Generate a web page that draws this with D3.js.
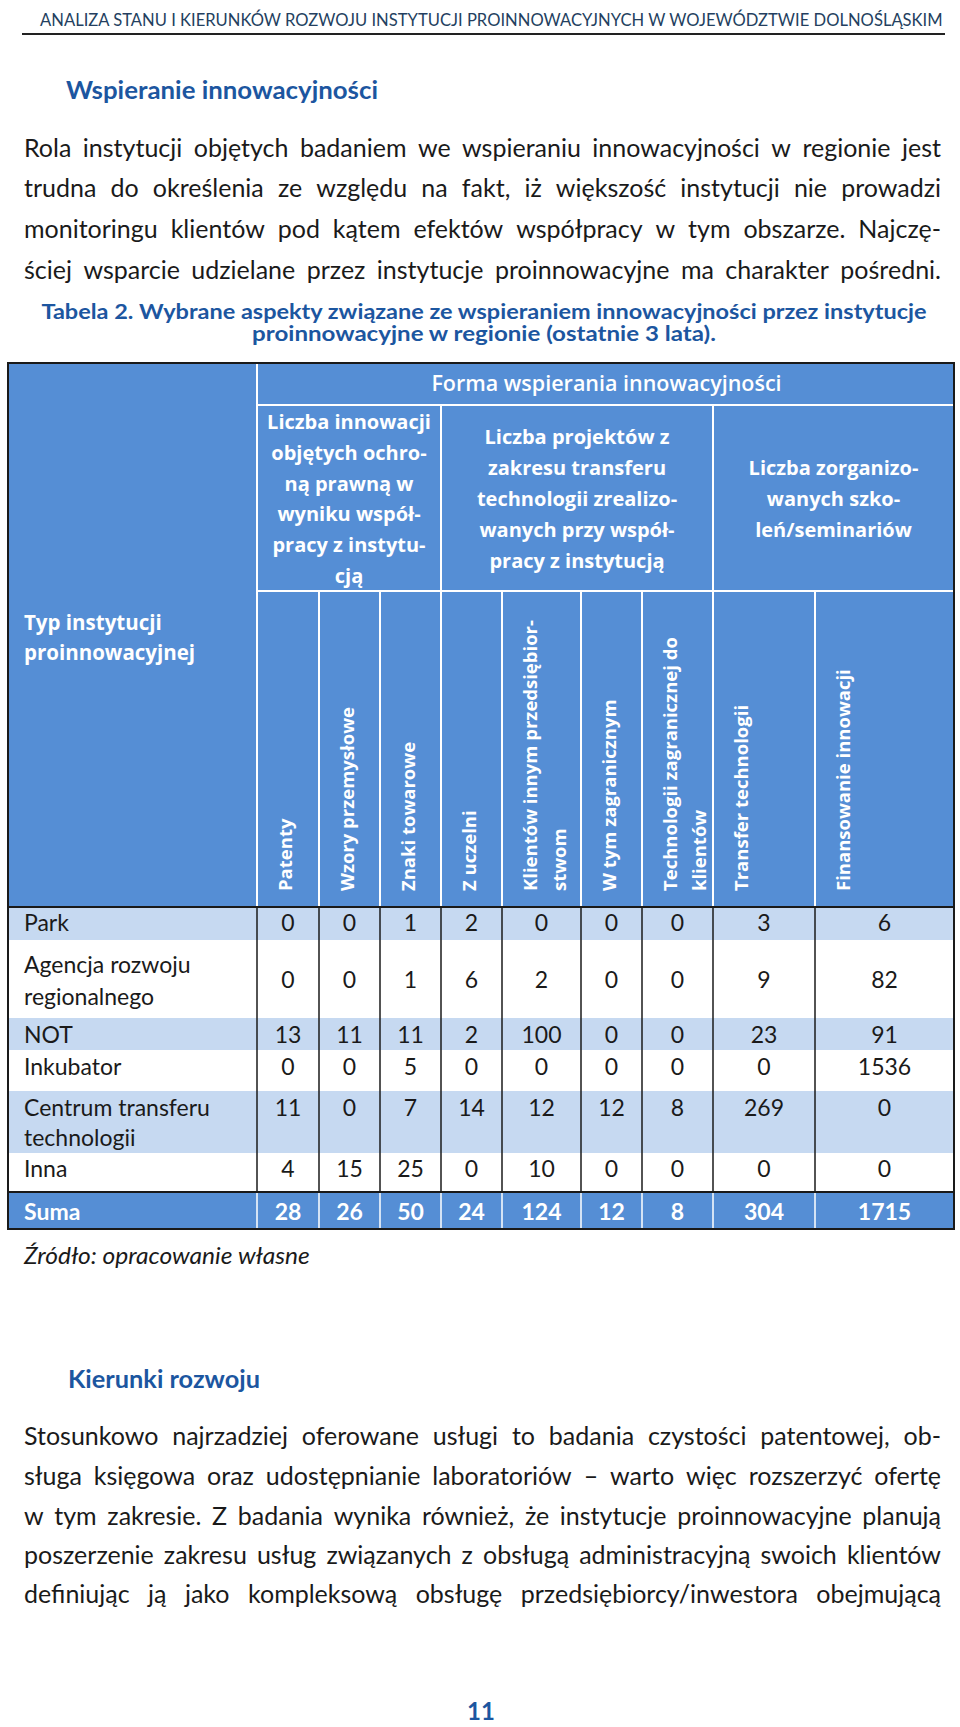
<!DOCTYPE html>
<html><head><meta charset="utf-8">
<script src="https://cdn.jsdelivr.net/npm/d3@7/dist/d3.min.js"></script>
<style>
html,body{margin:0;padding:0;background:#fff;}
svg{display:block;}
</style></head>
<body>
<script>
// ---------------- DATA ----------------
const pageHeader = "ANALIZA STANU I KIERUNKÓW ROZWOJU INSTYTUCJI PROINNOWACYJNYCH W WOJEWÓDZTWIE DOLNOŚLĄSKIM";
const sectionTitle = "Wspieranie innowacyjności";
const para1 = [
  "Rola instytucji objętych badaniem we wspieraniu innowacyjności w regionie jest",
  "trudna do określenia ze względu na fakt, iż większość instytucji nie prowadzi",
  "monitoringu klientów pod kątem efektów współpracy w tym obszarze. Najczę-",
  "ściej wsparcie udzielane przez instytucje proinnowacyjne ma charakter pośredni."
];
const captionLines = [
  "Tabela 2. Wybrane aspekty związane ze wspieraniem innowacyjności przez instytucje",
  "proinnowacyjne w regionie (ostatnie 3 lata)."
];
const topHeader = "Forma wspierania innowacyjności";
const firstColHeader = ["Typ instytucji", "proinnowacyjnej"];
const groupLabels = [
  ["Liczba innowacji", "objętych ochro-", "ną prawną w", "wyniku współ-", "pracy z instytu-", "cją"],
  ["Liczba projektów z", "zakresu transferu", "technologii zrealizo-", "wanych przy współ-", "pracy z instytucją"],
  ["Liczba zorganizo-", "wanych szko-", "leń/seminariów"]
];
const columnLabels = [
  ["Patenty"],
  ["Wzory przemysłowe"],
  ["Znaki towarowe"],
  ["Z uczelni"],
  ["Klientów innym przedsiębior-", "stwom"],
  ["W tym zagranicznym"],
  ["Technologii zagranicznej do", "klientów"],
  ["Transfer technologii"],
  ["Finansowanie innowacji"]
];
const rowLabels = [
  ["Park"],
  ["Agencja rozwoju", "regionalnego"],
  ["NOT"],
  ["Inkubator"],
  ["Centrum transferu", "technologii"],
  ["Inna"]
];
const valuesPark      = [0, 0, 1, 2, 0, 0, 0, 3, 6];
const valuesAgencja   = [0, 0, 1, 6, 2, 0, 0, 9, 82];
const valuesNOT       = [13, 11, 11, 2, 100, 0, 0, 23, 91];
const valuesInkubator = [0, 0, 5, 0, 0, 0, 0, 0, 1536];
const valuesCentrum   = [11, 0, 7, 14, 12, 12, 8, 269, 0];
const valuesInna      = [4, 15, 25, 0, 10, 0, 0, 0, 0];
const sumLabel = "Suma";
const sumValues = [28, 26, 50, 24, 124, 12, 8, 304, 1715];
const sourceNote = "Źródło: opracowanie własne";
const section2Title = "Kierunki rozwoju";
const para2 = [
  "Stosunkowo najrzadziej oferowane usługi to badania czystości patentowej, ob-",
  "sługa księgowa oraz udostępnianie laboratoriów – warto więc rozszerzyć ofertę",
  "w tym zakresie. Z badania wynika również, że instytucje proinnowacyjne planują",
  "poszerzenie zakresu usług związanych z obsługą administracyjną swoich klientów",
  "definiując ją jako kompleksową obsługę przedsiębiorcy/inwestora obejmującą"
];
const pageNumber = "11";

// ---------------- LAYOUT ----------------
const W = 960, H = 1727;
const BLUE = "#558ed5", LIGHT = "#c6d9f1", DARK = "#1a1a1a", TITLE = "#1c56a0";
const bodyFont = "Lato, 'Open Sans', sans-serif";
const headFont = "'Open Sans', 'Noto Sans', sans-serif";

const tableLeft = 8, tableRight = 954, tableTop = 363;
const formaBottom = 405, groupBottom = 591, headerBottom = 907;
const colEdges = [257, 319, 380, 441, 502, 581, 642, 713, 815, 954];
const groupCols = [[0, 3], [3, 7], [7, 9]];
const rowEdges = [907, 940, 1018, 1050, 1091, 1153, 1192, 1229];
const rowFills = [LIGHT, "#fff", LIGHT, "#fff", LIGHT, "#fff"];
const rowNumBase = [931, 988, 1043, 1075, 1116, 1177];
const rowLabelBase = [[931], [973, 1005], [1043], [1075], [1116, 1146], [1177]];

const tableRows = [valuesPark, valuesAgencja, valuesNOT, valuesInkubator, valuesCentrum, valuesInna];

const xCol = d3.scaleOrdinal().domain(d3.range(columnLabels.length))
  .range(d3.range(columnLabels.length).map(i => (colEdges[i] + colEdges[i + 1]) / 2));
const xColLeft = d3.scaleOrdinal().domain(d3.range(columnLabels.length)).range(colEdges.slice(0, -1));

const svg = d3.select("body").append("svg").attr("width", W).attr("height", H)
  .attr("viewBox", `0 0 ${W} ${H}`);
svg.append("rect").attr("width", W).attr("height", H).attr("fill", "#fff");

const meas = svg.append("text").attr("visibility", "hidden");
function measure(str, font, size, weight, style) {
  meas.attr("font-family", font).attr("font-size", size).attr("font-weight", weight || "normal")
    .attr("font-style", style || "normal").text(str);
  return meas.node().getComputedTextLength();
}

function justified(lines, baselines, x0, x1, size, color) {
  const target = x1 - x0;
  const natural = lines.map(l => measure(l, bodyFont, size));
  const k = Math.min(1, target / d3.max(natural));
  lines.forEach((line, li) => {
    const words = line.split(" ");
    const widths = words.map(w => measure(w, bodyFont, size));
    const total = d3.sum(widths) * k;
    const gap = words.length > 1 ? (target - total) / (words.length - 1) : 0;
    const t = svg.append("text").attr("transform", `translate(${x0},${baselines[li]}) scale(${k},1)`)
      .attr("font-family", bodyFont).attr("font-size", size).attr("fill", color);
    let x = 0;
    words.forEach((w, i) => {
      t.append("tspan").attr("x", x / k).attr("y", 0).text(i < words.length - 1 ? w + " " : w);
      x += widths[i] * k + gap;
    });
  });
}

// single line scaled horizontally to a given width
function fitted(str, x, y, width, size, opts) {
  const o = opts || {};
  const nat = measure(str, bodyFont, size, o.weight, o.style);
  const k = width / nat;
  return svg.append("text").attr("transform", `translate(${x},${y}) scale(${k},1)`)
    .attr("font-family", bodyFont)
    .attr("font-size", size).attr("font-weight", o.weight || "normal").attr("font-style", o.style || "normal")
    .attr("fill", o.fill || DARK).attr("text-anchor", o.anchor || "start").text(str);
}

// ---------------- PAGE HEADER ----------------
fitted(pageHeader, 40, 26, 903, 17.5, { fill: "#243f60" });
svg.append("line").attr("x1", 22).attr("x2", 945).attr("y1", 34).attr("y2", 34)
  .attr("stroke", "#222").attr("stroke-width", 2);

fitted(sectionTitle, 66, 99, 312, 25, { weight: "bold", fill: TITLE });

justified(para1, [157, 197, 238, 279], 24, 941, 25, DARK);

const capW = [886, 464];
captionLines.forEach((c, i) => {
  fitted(c, 484, [319, 341][i], capW[i], 21, { weight: "bold", fill: TITLE, anchor: "middle" });
});

// ---------------- TABLE ----------------
const tbl = svg.append("g");
tbl.append("rect").attr("x", tableLeft).attr("y", tableTop).attr("width", tableRight - tableLeft)
  .attr("height", headerBottom - tableTop).attr("fill", BLUE);

const wl = (x1, y1, x2, y2, w) => tbl.append("line").attr("x1", x1).attr("y1", y1).attr("x2", x2).attr("y2", y2)
  .attr("stroke", "#fff").attr("stroke-width", w || 2);
wl(colEdges[0], tableTop, colEdges[0], headerBottom);
wl(colEdges[0], formaBottom, tableRight, formaBottom);
wl(colEdges[0], groupBottom, tableRight, groupBottom);
groupCols.forEach(g => { if (g[0] > 0) wl(colEdges[g[0]], formaBottom, colEdges[g[0]], headerBottom); });
colEdges.slice(1, -1).forEach(x => wl(x, groupBottom, x, headerBottom));

tbl.append("text").attr("x", (colEdges[0] + tableRight) / 2 + 1).attr("y", 391).attr("text-anchor", "middle")
  .attr("font-family", headFont).attr("font-weight", 600).attr("font-size", 21.5).attr("fill", "#fff").text(topHeader);

firstColHeader.forEach((t, i) => {
  tbl.append("text").attr("x", 24).attr("y", 630 + i * 30).attr("font-family", headFont)
    .attr("font-weight", "bold").attr("font-size", 20.5).attr("fill", "#fff").text(t);
});

const glh = 30.8;
groupLabels.forEach((lines, gi) => {
  const cx = (colEdges[groupCols[gi][0]] + colEdges[groupCols[gi][1]]) / 2;
  const cy = 499;
  const first = cy - (lines.length - 1) * glh / 2;
  lines.forEach((l, li) => {
    tbl.append("text").attr("x", cx).attr("y", first + li * glh + 7).attr("text-anchor", "middle")
      .attr("font-family", headFont).attr("font-weight", "bold").attr("font-size", 20).attr("fill", "#fff").text(l);
  });
});

columnLabels.forEach((lines, ci) => {
  lines.forEach((l, li) => {
    const x = xColLeft(ci) + 28 + li * 29 + 7;
    tbl.append("text").attr("transform", `translate(${x},891) rotate(-90)`)
      .attr("font-family", headFont).attr("font-weight", "bold").attr("font-size", 18.5).attr("fill", "#fff").text(l);
  });
});

tableRows.forEach((vals, ri) => {
  tbl.append("rect").attr("x", tableLeft).attr("y", rowEdges[ri]).attr("width", tableRight - tableLeft)
    .attr("height", rowEdges[ri + 1] - rowEdges[ri]).attr("fill", rowFills[ri]);
  rowLabels[ri].forEach((l, li) => {
    tbl.append("text").attr("x", 24).attr("y", rowLabelBase[ri][li]).attr("font-family", bodyFont)
      .attr("font-size", 23).attr("fill", DARK).text(l);
  });
  tbl.selectAll(null).data(vals).enter().append("text")
    .attr("x", (d, i) => xCol(i)).attr("y", rowNumBase[ri]).attr("text-anchor", "middle")
    .attr("font-family", bodyFont).attr("font-size", 23).attr("fill", DARK).text(d => d);
});

tbl.append("rect").attr("x", tableLeft).attr("y", rowEdges[6]).attr("width", tableRight - tableLeft)
  .attr("height", rowEdges[7] - rowEdges[6]).attr("fill", BLUE);
tbl.append("text").attr("x", 24).attr("y", 1220).attr("font-family", bodyFont).attr("font-weight", "bold")
  .attr("font-size", 23).attr("fill", "#fff").text(sumLabel);
tbl.selectAll(null).data(sumValues).enter().append("text")
  .attr("x", (d, i) => xCol(i)).attr("y", 1220).attr("text-anchor", "middle")
  .attr("font-family", bodyFont).attr("font-weight", "bold").attr("font-size", 23).attr("fill", "#fff").text(d => d);

colEdges.slice(0, -1).forEach(x => {
  tbl.append("line").attr("x1", x).attr("x2", x).attr("y1", headerBottom).attr("y2", rowEdges[6])
    .attr("stroke", DARK).attr("stroke-width", 1.5);
  tbl.append("line").attr("x1", x).attr("x2", x).attr("y1", rowEdges[6]).attr("y2", rowEdges[7])
    .attr("stroke", "#fff").attr("stroke-width", 1.5);
});
[headerBottom, rowEdges[6]].forEach(y => {
  tbl.append("line").attr("x1", tableLeft).attr("x2", tableRight).attr("y1", y).attr("y2", y)
    .attr("stroke", DARK).attr("stroke-width", 2);
});
tbl.append("rect").attr("x", tableLeft).attr("y", tableTop).attr("width", tableRight - tableLeft)
  .attr("height", rowEdges[7] - tableTop).attr("fill", "none").attr("stroke", DARK).attr("stroke-width", 2);

fitted(sourceNote, 24, 1264, 286, 23, { style: "italic" });

fitted(section2Title, 68, 1388, 192, 24, { weight: "bold", fill: TITLE });
justified(para2, [1445, 1485, 1525, 1564, 1603], 24, 941, 25, DARK);

svg.append("text").attr("x", 481).attr("y", 1720).attr("text-anchor", "middle").attr("font-family", bodyFont)
  .attr("font-weight", "bold").attr("font-size", 24).attr("fill", TITLE).text(pageNumber);

meas.remove();
</script>
</body></html>
